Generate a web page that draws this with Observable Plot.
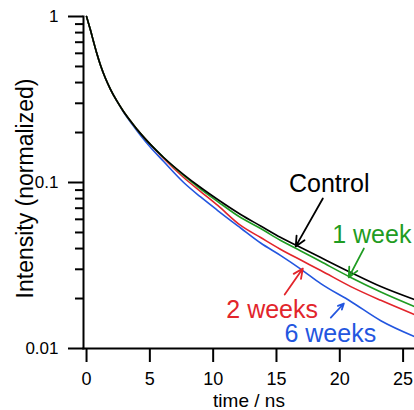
<!DOCTYPE html>
<html><head><meta charset="utf-8">
<script src="https://cdn.jsdelivr.net/npm/d3@7"></script>
<script src="https://cdn.jsdelivr.net/npm/@observablehq/plot@0.6"></script>
<style>html,body{margin:0;padding:0;background:#fff;overflow:hidden}</style>
</head><body><div id="chart"></div>
<script>
// time axis (ns)
const time = [0, 0.16, 0.32, 0.55, 0.79, 1.11, 1.50, 1.90, 2.37, 2.92, 3.56, 4.27, 5.06, 6.09, 7.67, 9.01, 10.36, 12.17, 13.75, 15.34, 16.92, 18.50, 20.87, 23.24, 25.9];
// normalized intensity
const control = [1.000, 0.907, 0.823, 0.707, 0.607, 0.507, 0.423, 0.363, 0.312, 0.268, 0.230, 0.197, 0.169, 0.1415, 0.1117, 0.0933, 0.0790, 0.0642, 0.0547, 0.0466, 0.0406, 0.0353, 0.0287, 0.0236, 0.0197];
const week1   = [1.000, 0.907, 0.823, 0.707, 0.607, 0.507, 0.423, 0.363, 0.312, 0.268, 0.230, 0.197, 0.169, 0.1415, 0.1102, 0.0913, 0.0768, 0.0615, 0.0528, 0.0447, 0.0387, 0.0334, 0.0268, 0.0219, 0.0179];
const weeks2  = [1.000, 0.907, 0.823, 0.707, 0.607, 0.507, 0.423, 0.363, 0.312, 0.268, 0.230, 0.197, 0.169, 0.1395, 0.1072, 0.0882, 0.0727, 0.0551, 0.0466, 0.0395, 0.0341, 0.0295, 0.0236, 0.0195, 0.0160];
const weeks6  = [1.000, 0.907, 0.823, 0.707, 0.607, 0.507, 0.423, 0.363, 0.312, 0.266, 0.2266, 0.1919, 0.1625, 0.1338, 0.100, 0.0818, 0.0678, 0.0532, 0.0432, 0.0363, 0.0301, 0.0246, 0.0192, 0.0147, 0.0118];

const seriesNames = ["6 weeks", "2 weeks", "1 week", "Control"];
const seriesValues = [weeks6, weeks2, week1, control];
const seriesColors = ["#2356df", "#e2252b", "#1f9c22", "#000000"];

const xTicks = [0, 5, 10, 15, 20, 25];
const yMajorTicks = [0.01, 0.1, 1];
const yMajorLabels = ["0.01", "0.1", "1"];
const yMinorTicks = [0.02, 0.03, 0.04, 0.05, 0.06, 0.07, 0.08, 0.09, 0.2, 0.3, 0.4, 0.5, 0.6, 0.7, 0.8, 0.9];

// annotation labels (text, time, intensity at baseline)
const labelTexts = ["Control", "1 week", "2 weeks", "6 weeks"];
const labelT = [19.17, 22.53, 14.66, 19.25];
const labelV = [0.0871, 0.0435, 0.01537, 0.01087];
const labelColors = ["#000000", "#1f9c22", "#e2252b", "#2356df"];
// arrows: start -> end
const arrowT1 = [18.66, 21.90, 15.65, 19.29];
const arrowV1 = [0.0801, 0.0400, 0.02115, 0.01537];
const arrowT2 = [16.52, 20.71, 17.08, 20.32];
const arrowV2 = [0.0412, 0.0268, 0.0303, 0.01867];

const font = "'Liberation Sans', Arial, Helvetica, sans-serif";

const lineMarks = seriesNames.map((name, i) =>
  Plot.line(time.map((t, j) => ({t, v: seriesValues[i][j], series: name})),
    {x: "t", y: "v", stroke: seriesColors[i], strokeWidth: 1.6, curve: "monotone-x"})
);
const textMarks = labelTexts.map((txt, i) =>
  Plot.text([{t: labelT[i], v: labelV[i], txt}],
    {x: "t", y: "v", text: "txt", fill: labelColors[i], fontSize: 25, lineAnchor: "bottom", textAnchor: "middle"})
);
const arrowMarks = labelTexts.map((txt, i) =>
  Plot.arrow([{x1: arrowT1[i], y1: arrowV1[i], x2: arrowT2[i], y2: arrowV2[i]}],
    {x1: "x1", y1: "y1", x2: "x2", y2: "y2", stroke: labelColors[i], strokeWidth: 1.8, headLength: 9, headAngle: 50})
);

const chart = Plot.plot({
  width: 414,
  height: 410,
  marginLeft: 83,
  marginRight: 0,
  marginTop: 16,
  marginBottom: 62,
  style: {fontFamily: font, background: "#fff", color: "#000", overflow: "visible"},
  x: {domain: [-0.24, 25.9], axis: null},
  y: {type: "log", domain: [0.01, 1], axis: null},
  marks: [
    Plot.axisX(xTicks, {tickSize: 14, tickPadding: 10, fontSize: 18, strokeWidth: 2, label: null, tickFormat: d => String(d)}),
    Plot.axisY(yMajorTicks, {tickSize: 15, tickPadding: 10, fontSize: 17, strokeWidth: 2, label: null,
      tickFormat: d => yMajorLabels[yMajorTicks.indexOf(d)]}),
    Plot.axisY(yMinorTicks, {tickSize: 8, strokeWidth: 2, label: null, tickFormat: () => ""}),
    ...lineMarks,
    Plot.frame({anchor: "left", strokeWidth: 2}),
    Plot.frame({anchor: "bottom", strokeWidth: 2}),
    ...arrowMarks,
    ...textMarks,
    Plot.text(["time / ns"], {text: d => d, frameAnchor: "bottom", dy: 58, lineAnchor: "bottom", fontSize: 19}),
    Plot.text(["Intensity (normalized)"], {text: d => d, frameAnchor: "left", dx: -58, dy: 6, rotate: -90, fontSize: 23, textAnchor: "middle", lineAnchor: "middle"})
  ]
});
document.getElementById("chart").appendChild(chart);
</script>
</body></html>
